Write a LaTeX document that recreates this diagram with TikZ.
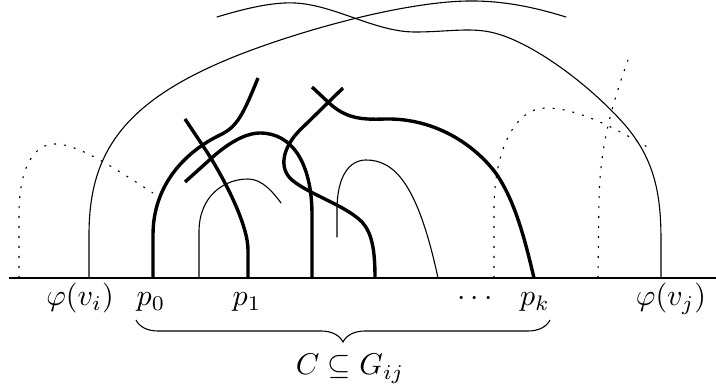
\documentclass[tikz,border=0pt]{standalone}
\usetikzlibrary{decorations.pathreplacing}
\tikzset{
  thinline/.style={line width=1.1pt, line cap=round},
  thickline/.style={line width=3.4pt, line cap=butt, line join=round},
  dotline/.style={line width=1.1pt, dash pattern=on 2pt off 8pt},
  lab/.style={anchor=base, inner sep=0pt, scale=3},
}
\begin{document}
\begin{tikzpicture}[x=1pt,y=-1pt]
\useasboundingbox (0,0) rectangle (716,390);
% baseline
\draw[line width=1.3pt] (9,278) -- (716,278);
% left dotted
\draw[dotline] (19,278) -- (19,215) .. controls (19,165) and (35,144) .. (55,144) .. controls (80,144) and (120,172) .. (153,193);
% big arc from phi(v_i)
\draw[thinline] (89,278) -- (89,235) .. controls (89,150) and (125,95) .. (260,47) .. controls (330,22) and (420,0) .. (475,1) .. controls (510,1.5) and (540,9) .. (566,17);
% other top curve to phi(v_j)
\draw[thinline] (217,17) .. controls (250,7) and (275,2) .. (295,3) .. controls (335,5) and (375,32) .. (415,32) .. controls (445,32) and (468,27.5) .. (490,32) .. controls (530,40) and (590,85) .. (625,125) .. controls (655,160) and (661,195) .. (661,240) -- (661,278);
% thin arc near p1
\draw[thinline] (199,278) -- (199,232) .. controls (199,195) and (225,179) .. (248,179) .. controls (262,179) and (273,192) .. (281,203);
% thick p0
\draw[thickline] (153,278) -- (153,235) .. controls (153,185) and (185,152) .. (220,135) .. controls (237,127) and (243,115) .. (258,78);
% thick p1
\draw[thickline] (185,119) -- (207,152) .. controls (225,180) and (248,225) .. (248,250) -- (248,278);
% thick arc to 312
\draw[thickline] (185,182) -- (215,155) .. controls (235,138) and (250,133) .. (260,133) .. controls (292,133) and (312,163) .. (312,215) -- (312,278);
% thick from 375 with loop
\draw[thickline] (343,88) -- (300,130) .. controls (283,147) and (278,168) .. (292,180) .. controls (310,195) and (345,205) .. (362,222) .. controls (372,233) and (375,250) .. (375,278);
% thick p_k
\draw[thickline] (312,87) -- (328,102) .. controls (345,118) and (360,120) .. (385,119) .. controls (430,118) and (470,140) .. (495,172) .. controls (515,200) and (525,240) .. (534,278);
% thin right
\draw[thinline] (337,237) -- (337,210) .. controls (337,175) and (350,160) .. (366,160) .. controls (395,160) and (418,185) .. (438,278);
% dotted A
\draw[dotline] (494,278) -- (494,210) .. controls (494,150) and (515,108) .. (546,108) .. controls (575,108) and (610,125) .. (649,148);
% dotted B
\draw[dotline] (598,278) -- (599,200) .. controls (600,150) and (610,110) .. (628,60);
% labels
\node[lab] (phii) at (80,306) {$\varphi(v_i)$};
\node[lab] (p0) at (151,306) {$p_0$};
\node[lab] (p1) at (247,306) {$p_1$};
\node[lab] (dots) at (475,306) {$\cdots$};
\node[lab] (pk) at (535,306) {$p_k$};
\node[lab] (phij) at (671,306) {$\varphi(v_j)$};
\coordinate (bl) at (136,320);
\coordinate (br) at (550,320);
\draw[line width=1.1pt, decorate, decoration={brace, mirror, amplitude=22pt}] (bl) -- (br);
\node[lab] (C) at (350,375) {$C\subseteq G_{ij}$};
\end{tikzpicture}
\end{document}
